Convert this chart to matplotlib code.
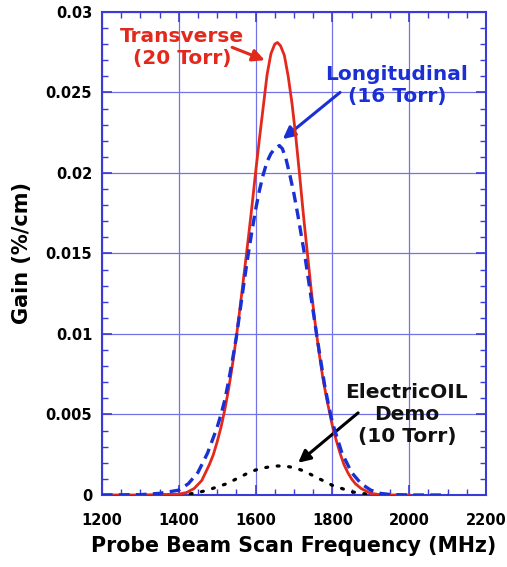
import numpy as np
import matplotlib
matplotlib.use('Agg')
import matplotlib.pyplot as plt
from matplotlib.ticker import MultipleLocator, FixedLocator

plt.rcParams['font.family'] = 'DejaVu Sans'
plt.rcParams['font.weight'] = 'bold'

# Transverse (20 Torr), red solid
freq_t = [1200, 1300, 1400, 1420, 1440, 1460, 1480, 1490, 1500, 1510, 1520, 1530,
          1540, 1550, 1560, 1570, 1580, 1590, 1600, 1610, 1620, 1630, 1640, 1650,
          1657, 1665, 1675, 1685, 1695, 1705, 1715, 1725, 1735, 1745, 1755, 1765,
          1775, 1785, 1800, 1810, 1820, 1830, 1840, 1850, 1860, 1875, 1900, 1925,
          1950, 2000]
gain_t = [0, 0, 0.00005, 0.00015, 0.0004, 0.0009, 0.0019, 0.0025, 0.0033, 0.0042,
          0.0053, 0.0066, 0.0081, 0.0098, 0.0117, 0.0137, 0.0157, 0.0178, 0.0200,
          0.0221, 0.0241, 0.0261, 0.0274, 0.0280, 0.0281, 0.0279, 0.0273, 0.0260,
          0.0243, 0.0222, 0.0198, 0.0173, 0.0150, 0.0127, 0.0107, 0.0089, 0.0073,
          0.0060, 0.0043, 0.0034, 0.0026, 0.0019, 0.0014, 0.0010, 0.0007, 0.0004,
          0.0001, 0.00002, 0, 0]

# Longitudinal (16 Torr), blue dashed
freq_l = [1200, 1300, 1350, 1375, 1400, 1425, 1450, 1475, 1500, 1510, 1520, 1530,
          1540, 1550, 1560, 1570, 1580, 1590, 1600, 1610, 1620, 1630, 1640, 1650,
          1662, 1670, 1680, 1690, 1700, 1710, 1720, 1730, 1740, 1750, 1760, 1770,
          1780, 1790, 1800, 1825, 1850, 1875, 1900, 1925, 1950, 2000, 2100]
gain_l = [0, 0.00002, 0.0001, 0.0002, 0.0003, 0.0007, 0.0014, 0.0026, 0.0042,
          0.0050, 0.0059, 0.0071, 0.0084, 0.0098, 0.0115, 0.0132, 0.0148, 0.0163,
          0.0177, 0.0189, 0.0199, 0.0207, 0.0212, 0.0215, 0.0217, 0.0215, 0.0208,
          0.0198, 0.0187, 0.0174, 0.0160, 0.0146, 0.0130, 0.0114, 0.0098, 0.0083,
          0.0068, 0.0056, 0.0045, 0.0026, 0.0014, 0.0007, 0.0003, 0.0001, 0.00003,
          0, 0]

# ElectricOIL demo (10 Torr), black dotted
freq_e = [1400, 1425, 1450, 1475, 1500, 1525, 1550, 1575, 1600, 1625, 1650, 1675,
          1700, 1725, 1750, 1775, 1800, 1825, 1850, 1875, 1900, 1925]
gain_e = [0, 0.00005, 0.00015, 0.0003, 0.0005, 0.0007, 0.0010, 0.0013, 0.00155,
          0.0017, 0.0018, 0.0018, 0.0017, 0.0015, 0.0012, 0.0009, 0.0006, 0.0004,
          0.0002, 0.0001, 0.00003, 0]

red = '#e3281c'
blue = '#1a2fd4'
grid_c = '#7373e8'
spine_c = '#3a3ad8'

fig = plt.figure(figsize=(5.07, 5.67), dpi=100)
ax = fig.add_axes([0.201, 0.127, 0.7576, 0.852])

ax.plot(freq_e, gain_e, color='black', lw=2.3, linestyle=(0, (0.6, 3.0)),
        dash_capstyle='round', zorder=3)
ax.plot(freq_t, gain_t, color=red, lw=2.0, zorder=4)
ax.plot(freq_l, gain_l, color=blue, lw=2.4, linestyle=(0, (3.2, 1.9)), zorder=5)

ax.set_xlim(1200, 2200)
ax.set_ylim(0, 0.03)
ax.xaxis.set_major_locator(MultipleLocator(200))
ax.xaxis.set_minor_locator(MultipleLocator(50))
ax.yaxis.set_major_locator(FixedLocator([0, 0.005, 0.01, 0.015, 0.02, 0.025, 0.03]))
ax.yaxis.set_minor_locator(MultipleLocator(0.001))
ax.set_yticklabels(['0', '0.005', '0.01', '0.015', '0.02', '0.025', '0.03'])

ax.grid(True, which='major', color=grid_c, lw=0.9)
ax.tick_params(which='both', direction='in', top=True, right=True, color=spine_c,
               labelsize=10.5)
ax.tick_params(which='major', length=7, width=1.2)
ax.tick_params(which='minor', length=4, width=1.0)
ax.tick_params(axis='x', which='major', pad=13)
ax.tick_params(axis='y', which='major', pad=7)
for s in ax.spines.values():
    s.set_color(spine_c)
    s.set_linewidth(1.5)

ax.set_xlabel('Probe Beam Scan Frequency (MHz)', fontsize=14.8, fontweight='bold', labelpad=6)
ax.set_ylabel('Gain (%/cm)', fontsize=15, fontweight='bold', labelpad=10)

ax.text(1408, 0.0278, 'Transverse\n(20 Torr)', color=red, fontsize=14.5,
        fontweight='bold', ha='center', va='center', linespacing=1.2)
ax.annotate('', xy=(1624, 0.0270), xytext=(1539, 0.0278),
            arrowprops=dict(arrowstyle='-|>', color=red, lw=2.2, mutation_scale=18,
                            shrinkA=0, shrinkB=0))

ax.text(1968, 0.0254, 'Longitudinal\n(16 Torr)', color=blue, fontsize=14.5,
        fontweight='bold', ha='center', va='center', linespacing=1.2)
ax.annotate('', xy=(1671, 0.0221), xytext=(1820, 0.0250),
            arrowprops=dict(arrowstyle='-|>', color=blue, lw=2.2, mutation_scale=18,
                            shrinkA=0, shrinkB=0))

ax.text(1994, 0.0050, 'ElectricOIL\nDemo\n(10 Torr)', color='#111111', fontsize=14.5,
        fontweight='bold', ha='center', va='center', linespacing=1.2)
ax.annotate('', xy=(1711, 0.0020), xytext=(1867, 0.0051),
            arrowprops=dict(arrowstyle='-|>', color='black', lw=2.2, mutation_scale=18,
                            shrinkA=0, shrinkB=0))

fig.savefig('out.png', dpi=100)
